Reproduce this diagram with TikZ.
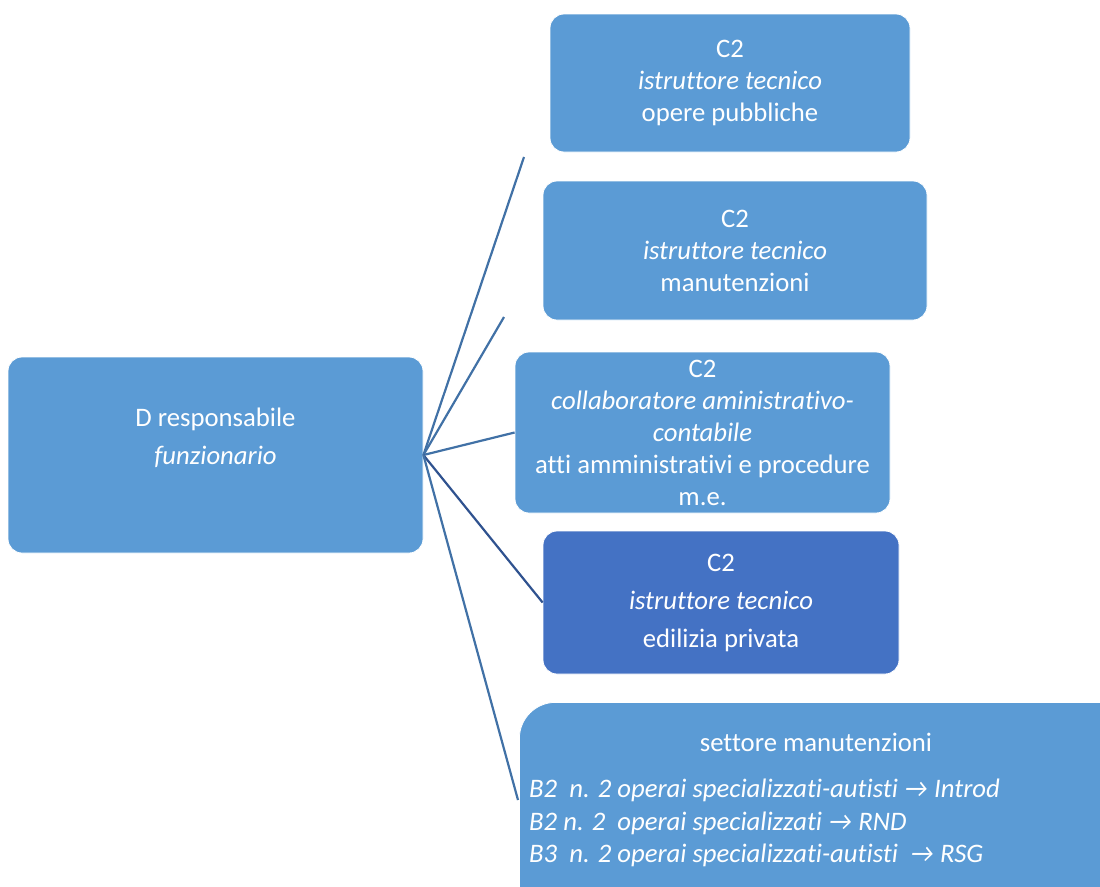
\documentclass[tikz,border=0pt]{standalone}
\usepackage{fontspec}
\setmainfont{Carlito}[Ligatures=NoCommon]
\definecolor{lblue}{RGB}{91,155,213}
\definecolor{dblue}{RGB}{68,114,196}
\definecolor{lnk}{RGB}{65,113,166}
\definecolor{lnkdk}{RGB}{47,82,143}
\begin{document}
\begin{tikzpicture}[x=1pt,y=-1pt,
  box/.style={draw=white, line width=0.8pt, fill=lblue, rounded corners=14pt, text=white,
    align=center, inner sep=0pt, font=\fontsize{26.7}{32}\selectfont},
  link/.style={draw=lnk, line width=2.2pt}]
\useasboundingbox (0,0) rectangle (1100,886);
\node[box, minimum width=415pt, minimum height=196pt, font=\fontsize{26.7}{38}\selectfont] (d) at (215.5,455)
  {D responsabile\\\textit{funzionario}\\\mbox{}};
\node[box, minimum width=360pt, minimum height=138pt] (c1) at (730,83)
  {C2\\\textit{istruttore tecnico}\\opere pubbliche};
\node[box, minimum width=384pt, minimum height=139pt] (c2) at (735,250.5)
  {C2\\\textit{istruttore tecnico}\\manutenzioni};
\node[box, minimum width=375pt, minimum height=161pt] (c3) at (702.5,432.5)
  {C2\\\textit{collaboratore aministrativo-}\\\textit{contabile}\\atti amministrativi e procedure\\m.e.};
\node[box, fill=dblue, minimum width=356pt, minimum height=143pt, font=\fontsize{26.7}{38}\selectfont] (c4) at (721,602.5)
  {C2\\\textit{istruttore tecnico}\\edilizia privata};
\node[box, rounded corners=36pt, anchor=north west, minimum width=630pt, minimum height=240pt] (b5) at (519,702) {};
\node[text=white, inner sep=0pt, font=\fontsize{26.7}{32}\selectfont] (b5t) at (816,742) {settore manutenzioni};
\node[text=white, inner sep=0pt, anchor=west, align=left, font=\fontsize{26.7}{32.5}\selectfont\itshape] (b5l) at (529,823)
  {B2\ \ n. 2 operai specializzati-autisti → Introd\\B2 n. 2\ \ operai specializzati → RND\\B3\ \ n. 2 operai specializzati-autisti\ \ → RSG};
\coordinate (e1) at (524,157);
\coordinate (e2) at (504,317);
\coordinate (e5) at (518,800);
\draw[link] (d.east) -- (e1);
\draw[link] (d.east) -- (e2);
\draw[link] (d.east) -- (c3.west);
\draw[link, draw=lnkdk] (d.east) -- (c4.west);
\draw[link] (d.east) -- (e5);
\end{tikzpicture}
\end{document}
